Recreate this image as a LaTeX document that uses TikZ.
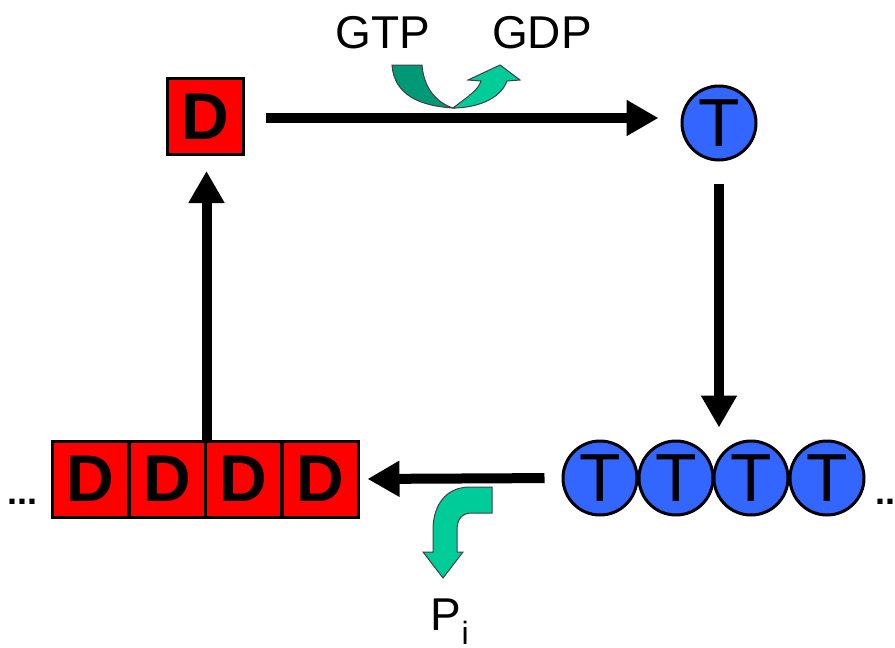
\documentclass[tikz,border=0pt]{standalone}
\usepackage{fontspec}
\setmainfont{Liberation Sans}
\usetikzlibrary{arrows.meta}
\definecolor{dred}{RGB}{255,0,0}
\definecolor{tblue}{RGB}{51,102,255}
\definecolor{gdark}{RGB}{0,153,119}
\definecolor{glight}{RGB}{0,204,153}
\tikzset{
  dbox/.style={draw=black, line width=3pt, fill=dred, minimum size=76pt, inner sep=0pt,
    font=\bfseries\fontsize{66}{66}\selectfont},
  tball/.style={draw=black, line width=3pt, fill=tblue, circle, minimum size=74pt, inner sep=0pt,
    font=\fontsize{68}{68}\selectfont},
  arr/.style={line width=10pt, -{Triangle[length=32pt,width=34pt]}},
  lab/.style={font=\fontsize{46}{46}\selectfont, inner sep=0pt},
  dots/.style={font=\bfseries\fontsize{36}{36}\selectfont, inner sep=0pt},
  garrow/.style={draw=black!75, line width=1pt},
}
\begin{document}
\begin{tikzpicture}[x=1pt,y=-1pt]
\useasboundingbox (0,0) rectangle (895,648);
% top D and T
\node[dbox] (dtop) at (205.5,116.5) {D};
\node[tball] (ttop) at (719,123) {T};
% bottom T row
\node[tball] (t1) at (600,478) {T};
\node[tball] (t2) at (676,478) {T};
\node[tball] (t3) at (751,478) {T};
\node[tball] (t4) at (827,478) {T};
% bottom D row
\node[dbox] (d1) at (90.5,479) {D};
\node[dbox] (d2) at (167,479) {D};
\node[dbox] (d3) at (243.5,479) {D};
\node[dbox] (d4) at (320,479) {D};
% dots
\node[dots, anchor=base west] (ldots) at (7,504) {...};
\node[dots, anchor=base west] (rdots) at (875,504) {...};
% arrows
\coordinate (tin) at (ttop.west |- 0,118);
\coordinate (dout) at (dtop.east |- 0,118);
\draw[arr, shorten <=21pt, shorten >=22pt] (dout) -- (tin);
\draw[arr, shorten <=22pt, shorten >=12pt] (ttop.south) -- (ttop.south |- t2.north);
\draw[arr, shorten <=17pt, shorten >=8pt] (t1.west) -- (d4.east);
\draw[arr, shorten >=15pt] (d2.north east) -- (d2.north east |- dtop.south);
% labels
\node[lab] (gtp) at (383,33) {GTP};
\node[lab] (gdp) at (542,33) {GDP};
\node[lab, anchor=base] (pi) at (450,630) {P\textsubscript{i}};
% GDP arrow (light)
\filldraw[garrow, fill=glight]
  (453,108) .. controls (470,95) and (478,90) .. (481,81)
  -- (468,80) -- (500,65) -- (520,80) -- (507,81)
  .. controls (500,100) and (475,108) .. (453,108) -- cycle;
% GTP arrow (dark)
\filldraw[garrow, fill=gdark]
  (392,65) -- (422,65)
  .. controls (424,90) and (438,103) .. (453,108)
  .. controls (420,106) and (394,95) .. (392,65) -- cycle;
% Pi arrow
\filldraw[garrow, fill=glight]
  (492,487) -- (470,487)
  .. controls (446,487) and (433,505) .. (433,530)
  -- (433,552) -- (423,552) -- (443,578) -- (463,552) -- (457,552)
  -- (457,530) .. controls (457,519) and (462,513) .. (472,513)
  -- (492,513) -- cycle;
\end{tikzpicture}
\end{document}
